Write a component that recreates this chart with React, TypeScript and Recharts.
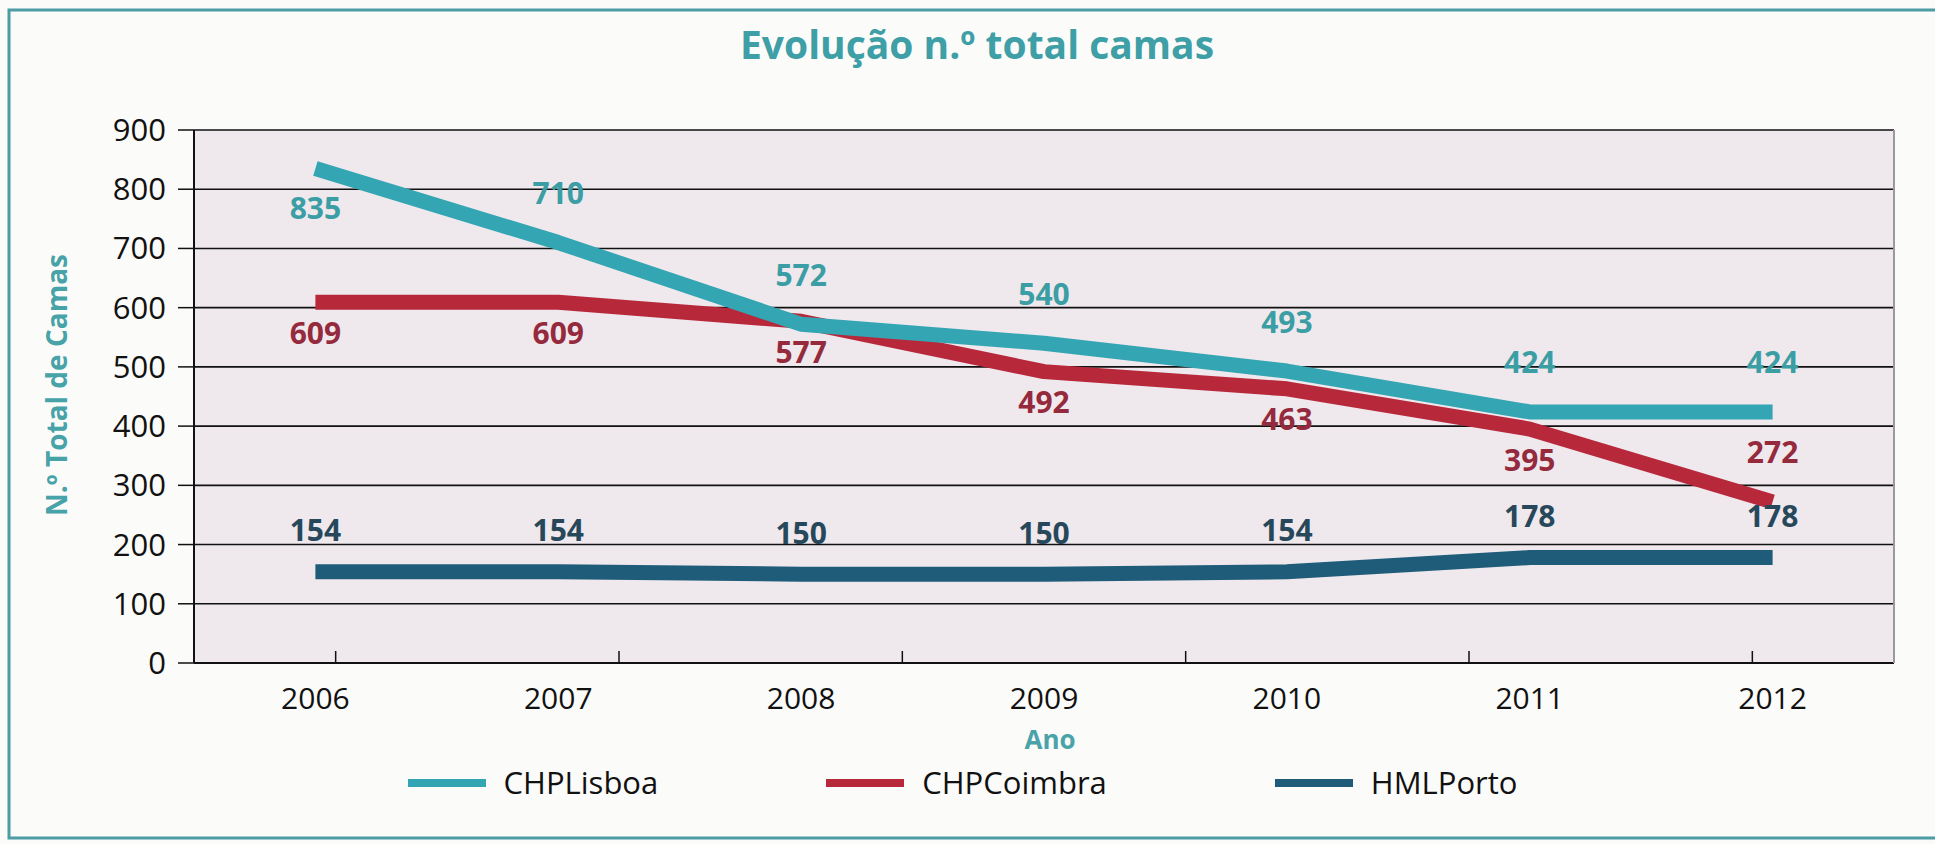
import React from 'react';
import { LineChart, Line, XAxis, YAxis, CartesianGrid, LabelList } from 'recharts';

const years = ['2006', '2007', '2008', '2009', '2010', '2011', '2012'];
const chpLisboa = [835, 710, 572, 540, 493, 424, 424];
const chpCoimbra = [609, 609, 577, 492, 463, 395, 272];
const hmlPorto = [154, 154, 150, 150, 154, 178, 178];
const yTicks = [0, 100, 200, 300, 400, 500, 600, 700, 800, 900];
const boundaryTicks = [0.5, 1.5, 2.5, 3.5, 4.5, 5.5];

const seriesNames = ['CHPLisboa', 'CHPCoimbra', 'HMLPorto'];
const lineColors = ['#34a5b2', '#b8283b', '#1f5c7a'];
const labelColors = ['#3a9ea4', '#952a3d', '#27485b'];

const data = years.map((year, i) => ({
  year,
  lisboa: chpLisboa[i],
  coimbra: chpCoimbra[i],
  porto: hmlPorto[i],
}));

const FONT = "'Open Sans', 'Noto Sans', sans-serif";

const makeLabel = (color: string, isBelow: (i: number, n: number) => boolean, below: number, above: number) =>
  (props: any) => {
    const { x, y, value, index } = props;
    if (x == null || y == null) return null;
    const dy = isBelow(index, years.length) ? below : above;
    return (
      <text
        x={x}
        y={y + dy}
        textAnchor="middle"
        dominantBaseline="central"
        fill={color}
        fontSize={30}
        fontWeight={700}
        fontFamily={FONT}
      >
        {value}
      </text>
    );
  };

export default function App() {
  return (
    <div style={{ position: 'absolute', left: 0, top: 0, width: 1935, height: 844, background: '#fbfbfa', fontFamily: FONT }}>
      <LineChart width={1935} height={844} data={data} margin={{ top: 130, right: 41, bottom: 81, left: 94 }}>
        <CartesianGrid vertical={false} stroke="#111" strokeWidth={1.6} fill="#efe8ed" fillOpacity={1} />
        <XAxis
          dataKey="year"
          padding={{ left: 121.4, right: 121.4 }}
          height={100}
          tickLine={false}
          tickSize={0}
          tickMargin={25}
          interval={0}
          axisLine={{ stroke: '#111', strokeWidth: 2 }}
          tick={{ fill: '#111', fontSize: 30, fontFamily: FONT }}
        />
        <XAxis
          xAxisId="b"
          type="number"
          domain={[-0.5, 6.5]}
          ticks={boundaryTicks}
          allowDataOverflow
          mirror
          axisLine={false}
          tickSize={12}
          tickLine={{ stroke: '#111', strokeWidth: 1.5 }}
          tickFormatter={() => ''}
        />
        <YAxis
          domain={[0, 900]}
          ticks={yTicks}
          interval={0}
          width={100}
          tickSize={16}
          tickMargin={12}
          axisLine={{ stroke: '#111', strokeWidth: 2 }}
          tickLine={{ stroke: '#111', strokeWidth: 1.5 }}
          tick={{ fill: '#111', fontSize: 31, fontFamily: FONT }}
        />
        <YAxis
          yAxisId="r"
          orientation="right"
          mirror
          domain={[0, 900]}
          tick={false}
          tickLine={false}
          axisLine={{ stroke: '#9a9a9a', strokeWidth: 2 }}
        />
        <Line
          dataKey="porto"
          name={seriesNames[2]}
          stroke={lineColors[2]}
          strokeWidth={15}
          dot={false}
          strokeLinecap="butt"
          strokeLinejoin="round"
          isAnimationActive={false}
        >
          <LabelList dataKey="porto" content={makeLabel(labelColors[2], () => false, 0, -42)} />
        </Line>
        <Line
          dataKey="coimbra"
          name={seriesNames[1]}
          stroke={lineColors[1]}
          strokeWidth={15}
          dot={false}
          strokeLinecap="butt"
          strokeLinejoin="round"
          isAnimationActive={false}
        >
          <LabelList dataKey="coimbra" content={makeLabel(labelColors[1], (i, n) => i !== n - 1, 30, -50)} />
        </Line>
        <Line
          dataKey="lisboa"
          name={seriesNames[0]}
          stroke={lineColors[0]}
          strokeWidth={15}
          dot={false}
          strokeLinecap="butt"
          strokeLinejoin="round"
          isAnimationActive={false}
        >
          <LabelList dataKey="lisboa" content={makeLabel(labelColors[0], (i) => i === 0, 39, -50)} />
        </Line>
      </LineChart>

      <svg width={1935} height={844} style={{ position: 'absolute', left: 0, top: 0, pointerEvents: 'none' }}>
        <path d="M1935 10 H9 V838 H1935" fill="none" stroke="#4b9ca3" strokeWidth={3} />
        <text x={977} y={59} textAnchor="middle" fill="#3e9fa6" fontSize={39} fontWeight={700} fontFamily={FONT}>
          Evolução n.º total camas
        </text>
        <text
          x={56}
          y={385}
          transform="rotate(-90 56 385)"
          textAnchor="middle"
          dominantBaseline="central"
          fill="#47a3a8"
          fontSize={28}
          fontWeight={700}
          fontFamily={FONT}
        >
          N.º Total de Camas
        </text>
        <text x={1050} y={749} textAnchor="middle" fill="#4aa3a8" fontSize={26} fontWeight={700} fontFamily={FONT}>
          Ano
        </text>
      </svg>

      <div
        style={{
          position: 'absolute',
          left: 0,
          top: 762,
          width: 1925,
          height: 41,
          display: 'flex',
          justifyContent: 'center',
          alignItems: 'center',
          gap: 168,
        }}
      >
        {seriesNames.map((name, i) => (
          <div key={name} style={{ display: 'flex', alignItems: 'center' }}>
            <div style={{ width: 78, height: 8, background: lineColors[i], marginRight: 18 }} />
            <span style={{ fontSize: 31, color: '#111', fontFamily: FONT, lineHeight: '41px' }}>{name}</span>
          </div>
        ))}
      </div>
    </div>
  );
}
